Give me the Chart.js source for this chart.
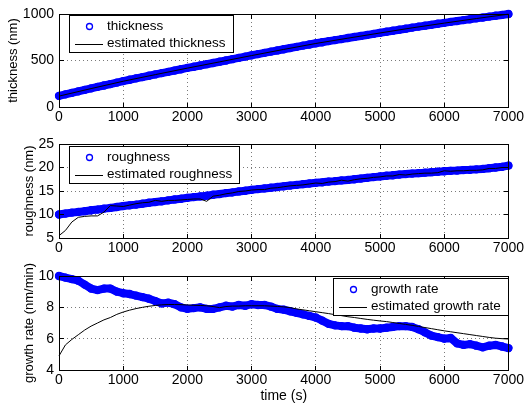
<!DOCTYPE html>
<html><head><meta charset="utf-8">
<script src="https://cdn.jsdelivr.net/npm/chart.js@4/dist/chart.umd.min.js"></script>
<style>
html,body{margin:0;padding:0;background:#fff;}
#wrap{position:relative;width:526px;height:405px;overflow:hidden;background:#fff;}
canvas{position:absolute;left:0;}
</style></head><body>
<div id="wrap">
<canvas id="c1" width="526" height="130" style="top:0px"></canvas>
<canvas id="c2" width="526" height="130" style="top:130px"></canvas>
<canvas id="c3" width="526" height="145" style="top:260px"></canvas>
</div>
<script>
// ---- data ----
const time = [0,100,200,300,400,500,600,700,800,900,1000,1100,1200,1300,1400,1500,1600,1700,1800,1900,2000,2100,2200,2300,2400,2500,2600,2700,2800,2900,3000,3100,3200,3300,3400,3500,3600,3700,3800,3900,4000,4100,4200,4300,4400,4500,4600,4700,4800,4900,5000,5100,5200,5300,5400,5500,5600,5700,5800,5900,6000,6100,6200,6300,6400,6500,6600,6700,6800,6900,7000];
const thickness = [120,136,152,168,184,200,216,231,247,263,279,293,308,322,336,350,364,378,392,406,420,433,446,460,473,487,500,514,528,542,556,569,582,595,608,621,634,647,660,672,685,696,708,719,730,742,753,764,775,786,798,809,820,831,842,853,864,874,884,895,905,915,924,934,943,953,962,972,981,990,1000];
const estTime = [0,500,1000,1500,2000,2500,3000,3500,4000,4500,5000,5500,6000,6500,7000];
const estThickness = [117,198,277,348,418,485,553,619,683,740,796,851,902,951,998];
const roughness = [10.0,10.2,10.4,10.55,10.7,10.9,11.05,11.25,11.4,11.6,11.8,11.95,12.1,12.3,12.5,12.65,12.8,13.0,13.2,13.35,13.55,13.7,13.85,14.0,14.2,14.35,14.55,14.7,14.9,15.05,15.25,15.4,15.55,15.7,15.85,16.0,16.15,16.3,16.45,16.6,16.75,16.85,17.0,17.1,17.25,17.35,17.5,17.65,17.8,17.95,18.1,18.25,18.35,18.5,18.6,18.7,18.8,18.9,19.0,19.1,19.2,19.3,19.35,19.45,19.5,19.6,19.7,19.85,20.0,20.15,20.4];
const estRoughness = [5.5,6.6,8.4,9.4,9.6,9.7,9.7,10.5,11.9,11.8,11.7,12.0,12.3,12.5,12.6,13.0,12.8,13.0,13.0,13.1,13.2,13.3,13.3,12.8,13.9,14.1,14.4,14.6,14.9,15.0,15.2,15.3,15.3,15.6,15.7,15.9,16.1,16.2,16.3,16.5,16.7,16.6,16.9,17.0,17.3,17.1,17.4,17.6,17.7,17.9,18.0,18.2,18.2,18.5,18.4,18.6,18.7,18.8,18.8,18.9,19.3,19.2,19.3,19.3,19.4,19.4,19.5,19.8,19.8,20.0,20.0];
const growthRate = [10.0,9.9,9.8,9.7,9.45,9.2,9.1,9.2,9.2,9.0,8.9,8.85,8.75,8.65,8.55,8.4,8.25,8.3,8.2,8.0,7.9,7.95,8.0,7.9,7.9,8.0,8.1,8.05,8.15,8.1,8.2,8.15,8.15,8.05,7.9,7.85,7.75,7.65,7.55,7.45,7.35,7.15,6.95,6.85,6.8,6.8,6.7,6.65,6.6,6.65,6.65,6.7,6.75,6.8,6.8,6.75,6.6,6.4,6.2,6.1,6.0,6.05,5.7,5.6,5.65,5.55,5.45,5.55,5.6,5.5,5.4];
const estGrowthRate = [4.9,5.6,5.95,6.25,6.55,6.8,7.0,7.2,7.35,7.55,7.7,7.82,7.92,8.0,8.07,8.12,8.16,8.18,8.18,8.17,8.15,8.13,8.12,8.1,8.05,7.98,8.05,8.08,8.08,8.1,8.1,8.1,8.1,8.08,8.06,8.03,7.98,7.9,7.84,7.78,7.72,7.66,7.6,7.53,7.47,7.4,7.35,7.29,7.23,7.18,7.13,7.09,7.03,6.97,6.91,6.85,6.78,6.71,6.64,6.57,6.5,6.44,6.38,6.32,6.26,6.2,6.14,6.08,6.03,6.0,5.98];
const xTicks = [0,1000,2000,3000,4000,5000,6000,7000];
const yTicksThickness = [0,500,1000];
const yTicksRoughness = [5,10,15,20,25];
const yTicksGrowth = [4,6,8,10];

// ---- helpers ----
const FONT = "'Liberation Sans', Arial, Helvetica, sans-serif";
Chart.defaults.font.family = FONT;
Chart.defaults.color = '#000';
const BLUE = '#0000ff';

function pts(xs, ys){ return xs.map((x,i)=>({x:x, y:ys[i]})); }

const frame = {
  id:'frame',
  afterDatasetsDraw(chart){
    const {ctx, chartArea:a, scales:{x, y}} = chart;
    const al = p => Math.round(p - 0.5) + 0.5;
    const L = Math.round(a.left)+0.5, R = Math.round(a.right)+0.5, T = Math.round(a.top)+0.5, B = Math.round(a.bottom)+0.5;
    ctx.save();
    ctx.strokeStyle = '#000'; ctx.lineWidth = 1;
    ctx.beginPath();
    const tl = 4.5;
    x.ticks.forEach(t => { const p = al(x.getPixelForValue(t.value)); ctx.moveTo(p,B); ctx.lineTo(p,B-tl); ctx.moveTo(p,T); ctx.lineTo(p,T+tl); });
    y.ticks.forEach(t => { const p = al(y.getPixelForValue(t.value)); ctx.moveTo(L,p); ctx.lineTo(L+tl,p); ctx.moveTo(R,p); ctx.lineTo(R-tl,p); });
    ctx.stroke();
    ctx.strokeRect(L, T, R-L, B-T);
    ctx.restore();
  }
};

const boxLegend = {
  id:'boxLegend',
  afterDraw(chart, args, opts){
    if (!opts || !opts.items) return;
    const {ctx, chartArea:a} = chart;
    ctx.save();
    ctx.font = '13.5px ' + FONT;
    const tw = Math.max(...opts.items.map(it => ctx.measureText(it.text).width));
    const w = Math.round(38 + tw + 7), h = 37;
    const left = opts.align === 'right' ? Math.round(a.right) - w : Math.round(a.left) + 10;
    const top = Math.round(a.top) + opts.dy;
    ctx.fillStyle = '#fff'; ctx.fillRect(left, top, w, h);
    ctx.strokeStyle = '#000'; ctx.lineWidth = 1; ctx.strokeRect(left+0.5, top+0.5, w, h);
    opts.items.forEach((it, i) => {
      const cy = top + 11.5 + i*17;
      if (it.type === 'marker') {
        ctx.strokeStyle = BLUE; ctx.lineWidth = 1.3;
        ctx.beginPath(); ctx.arc(left+20.5, cy, 3, 0, Math.PI*2); ctx.stroke();
      } else {
        ctx.strokeStyle = '#000'; ctx.lineWidth = 1;
        ctx.beginPath(); ctx.moveTo(left+6, Math.round(cy)+0.5); ctx.lineTo(left+34, Math.round(cy)+0.5); ctx.stroke();
      }
      ctx.fillStyle = '#000'; ctx.textBaseline = 'middle'; ctx.textAlign = 'left';
      ctx.fillText(it.text, left+38, cy);
    });
    ctx.restore();
  }
};

function makeChart(id, cfg){
  const leftPad = cfg.leftPad;
  return new Chart(document.getElementById(id), {
    type:'line',
    data:{ datasets:[
      { label:cfg.estLabel, data:pts(cfg.estX, cfg.estY), borderColor:'#000', borderWidth:1, pointRadius:0, tension:0, order:0, clip:false },
      { label:cfg.measLabel, data:pts(time, cfg.measY), borderColor:BLUE, backgroundColor:BLUE, borderWidth:8,
        borderJoinStyle:'round', borderCapStyle:'round',
        pointRadius:3.5, pointBorderWidth:1.3, pointBorderColor:BLUE, pointBackgroundColor:BLUE, tension:0, order:1, clip:false }
    ]},
    options:{
      responsive:false, animation:false, devicePixelRatio:1,
      layout:{ padding:{ left:leftPad, right:16, top:cfg.top, bottom:0 } },
      plugins:{ legend:{display:false}, tooltip:{enabled:false}, boxLegend:cfg.legend },
      scales:{
        x:{ type:'linear', min:0, max:7000,
            afterBuildTicks: s => { s.ticks = xTicks.map(v=>({value:v})); },
            afterFit: s => { s.height = cfg.xHeight; },
            ticks:{ callback: v => String(v), maxRotation:0, autoSkip:false, padding:2, font:{size:14}, color:'#000' },
            grid:{ color:'#7a7a7a', lineWidth:1, drawTicks:false },
            border:{ display:false, dash:[1,3] },
            title: cfg.xTitle ? { display:true, text:cfg.xTitle, font:{size:14}, color:'#000', padding:{top:0,bottom:0} } : {display:false}
        },
        y:{ type:'linear', min:cfg.yTicks[0], max:cfg.yTicks[cfg.yTicks.length-1],
            afterBuildTicks: s => { s.ticks = cfg.yTicks.map(v=>({value:v})); },
            afterFit: s => { s.width = 59 - leftPad; },
            ticks:{ callback: v => String(v), padding:5, font:{size:14}, color:'#000' },
            grid:{ color:'#7a7a7a', lineWidth:1, drawTicks:false },
            border:{ display:false, dash:[1,3] },
            title:{ display:true, text:cfg.yTitle, font:{size:13}, color:'#000', padding:{top:6,bottom:0} }
        }
      }
    },
    plugins:[frame, boxLegend]
  });
}

makeChart('c1', { leftPad:0, top:14, xHeight:23, yTicks:yTicksThickness, yTitle:'thickness (nm)',
  measY:thickness, measLabel:'thickness', estX:estTime, estY:estThickness, estLabel:'estimated thickness',
  legend:{ align:'left', dy:1, items:[{type:'marker', text:'thickness'},{type:'line', text:'estimated thickness'}] } });

makeChart('c2', { leftPad:16, top:14, xHeight:22, yTicks:yTicksRoughness, yTitle:'roughness (nm)',
  measY:roughness, measLabel:'roughness', estX:time, estY:estRoughness, estLabel:'estimated roughness',
  legend:{ align:'left', dy:2, items:[{type:'marker', text:'roughness'},{type:'line', text:'estimated roughness'}] } });

makeChart('c3', { leftPad:16, top:16, xHeight:35, yTicks:yTicksGrowth, yTitle:'growth rate (nm/min)', xTitle:'time (s)',
  measY:growthRate, measLabel:'growth rate', estX:time, estY:estGrowthRate, estLabel:'estimated growth rate',
  legend:{ align:'right', dy:2, items:[{type:'marker', text:'growth rate'},{type:'line', text:'estimated growth rate'}] } });
</script>
</body></html>
